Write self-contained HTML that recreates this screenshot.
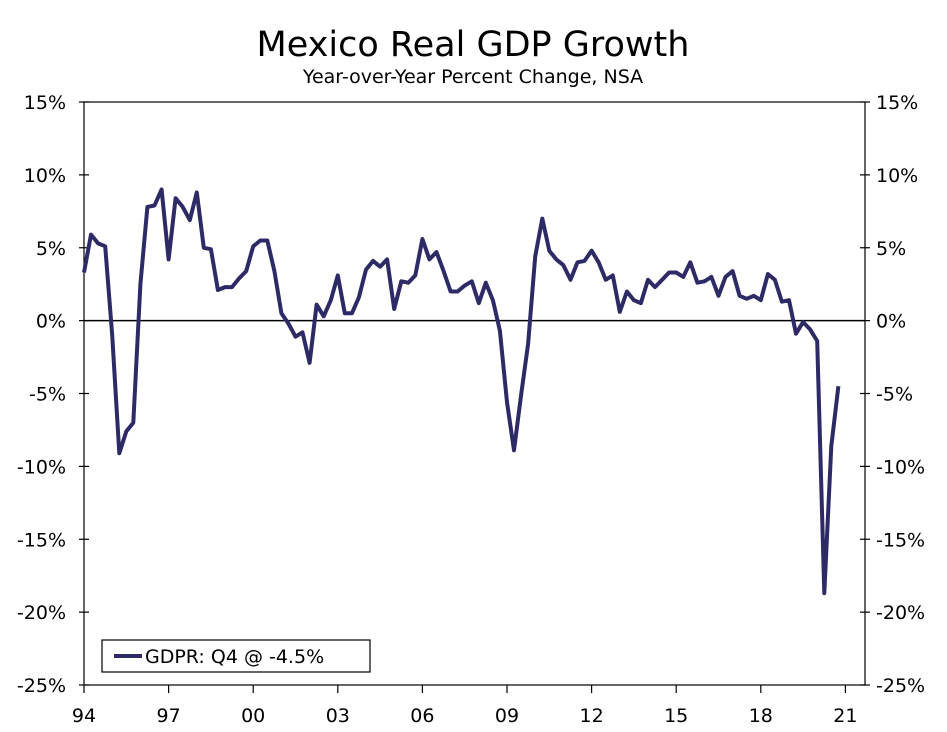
<!DOCTYPE html>
<html><head><meta charset="utf-8"><style>
body{margin:0;background:#fff;}
svg text{font-family:"DejaVu Sans","Liberation Sans",sans-serif;fill:#000;}
</style></head><body>
<svg id="chart" width="947" height="727" viewBox="0 0 947 727" xmlns="http://www.w3.org/2000/svg">
<text x="473" y="56" font-size="35" text-anchor="middle">Mexico Real GDP Growth</text>
<text x="473" y="83" font-size="19" text-anchor="middle">Year-over-Year Percent Change, NSA</text>
<rect x="84" y="102" width="781" height="583" fill="none" stroke="#000" stroke-width="1.2"/>
<g id="axes"></g>
<g id="series"></g>
<g>
<rect x="102" y="640" width="268" height="32" fill="#fff" stroke="#000" stroke-width="1.2"/>
<line x1="114" y1="656" x2="142" y2="656" stroke="#2e2a66" stroke-width="4"/>
<text x="145" y="663" font-size="19">GDPR: Q4 @ -4.5%</text>
</g>
</svg>
<script>
const yTicks=[15,10,5,0,-5,-10,-15,-20,-25];
const xTickLabels=["94","97","00","03","06","09","12","15","18","21"];
const xTickYears=[1994,1997,2000,2003,2006,2009,2012,2015,2018,2021];
const startYear=1994;
const gdpValues=[
3.3,5.9,5.3,5.1, -1.0,-9.1,-7.6,-7.0, 2.5,7.8,7.9,9.0, 4.2,8.4,7.8,6.9,
8.8,5.0,4.9,2.1, 2.3,2.3,2.9,3.4, 5.1,5.5,5.5,3.4, 0.5,-0.2,-1.1,-0.8,
-2.9,1.1,0.3,1.4, 3.1,0.5,0.5,1.6, 3.5,4.1,3.7,4.2, 0.8,2.7,2.6,3.1,
5.6,4.2,4.7,3.4, 2.0,2.0,2.4,2.7, 1.2,2.6,1.4,-0.7, -5.6,-8.9,-5.1,-1.6,
4.4,7.0,4.8,4.2, 3.8,2.8,4.0,4.1, 4.8,4.0,2.8,3.1, 0.6,2.0,1.4,1.2,
2.8,2.3,2.8,3.3, 3.3,3.0,4.0,2.6, 2.7,3.0,1.7,3.0, 3.4,1.7,1.5,1.7,
1.4,3.2,2.8,1.3, 1.4,-0.9,-0.1,-0.6, -1.4,-18.7,-8.6,-4.5];
const NS="http://www.w3.org/2000/svg";
const X0=84,QW=7.05,Y0=102,YH=583,YMAX=15,YMIN=-25;
function xq(i){return X0+i*QW;}
function xy(year){return X0+(year-startYear)*4*QW;}
function y(v){return Y0+(YMAX-v)/(YMAX-YMIN)*YH;}
function mk(tag,attrs,parent){const e=document.createElementNS(NS,tag);for(const k in attrs)e.setAttribute(k,attrs[k]);parent.appendChild(e);return e;}
const axes=document.getElementById('axes');
yTicks.forEach(v=>{
  const yy=y(v);
  let t=mk('line',{x1:X0-5,x2:X0+5,y1:yy,y2:yy,stroke:'#000','stroke-width':1.2},axes);
  
  
  t=mk('line',{x1:865-5,x2:865+5,y1:yy,y2:yy,stroke:'#000','stroke-width':1.2},axes);
  
  
  let l=mk('text',{x:66,y:yy+7,'font-size':19,'text-anchor':'end'},axes);l.textContent=v+'%';
  
  
  l=mk('text',{x:876,y:yy+7,'font-size':19,'text-anchor':'start'},axes);l.textContent=v+'%';
  
  
});
const zl=mk('line',{x1:X0,x2:865,y1:y(0),y2:y(0),stroke:'#000','stroke-width':1.4},axes);


xTickYears.forEach((yr,i)=>{
  const xx=xy(yr);
  const t=mk('line',{x1:xx,x2:xx,y1:685,y2:693,stroke:'#000','stroke-width':1.2},axes);
  
  
  const l=mk('text',{x:xx,y:722,'font-size':19,'text-anchor':'middle'},axes);l.textContent=xTickLabels[i];
  
  
});
const pts=gdpValues.map((v,i)=>xq(i).toFixed(1)+','+y(v).toFixed(1)).join(' ');
const line=mk('polyline',{points:pts,fill:'none',stroke:'#2e2a66','stroke-width':4,'stroke-linejoin':'round'},document.getElementById('series'));


</script>
</body></html>
